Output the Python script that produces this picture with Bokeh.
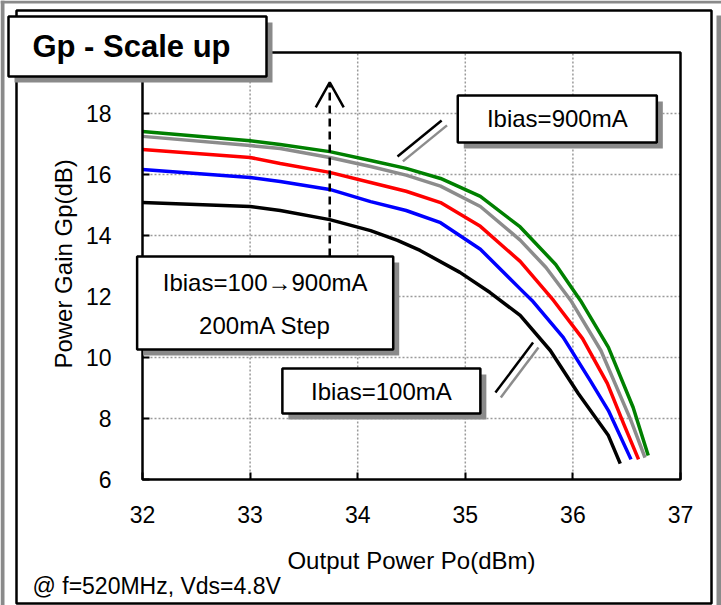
import math

from bokeh.plotting import figure
from bokeh.models import Range1d, BoxAnnotation, Label, FixedTicker
from bokeh.embed import file_html
from bokeh.resources import INLINE

# Output power (dBm) and power gain (dB) per bias current
po_100 = [32.0, 33.0, 33.28, 33.74, 34.12, 34.37, 34.58, 34.95, 35.23, 35.51, 35.79, 36.05, 36.33, 36.44]
gp_100 = [15.08, 14.95, 14.82, 14.52, 14.16, 13.84, 13.51, 12.79, 12.13, 11.38, 10.23, 8.82, 7.44, 6.52]

po_300 = [32.0, 33.0, 33.28, 33.74, 34.12, 34.45, 34.77, 35.14, 35.51, 35.62, 35.91, 36.16, 36.33, 36.54]
gp_300 = [16.16, 15.90, 15.77, 15.51, 15.11, 14.82, 14.42, 13.55, 12.25, 11.87, 10.66, 9.25, 8.26, 6.66]

po_500 = [32.0, 33.0, 33.28, 33.74, 34.12, 34.45, 34.77, 35.14, 35.51, 35.82, 36.09, 36.32, 36.47, 36.61]
gp_500 = [16.82, 16.56, 16.36, 16.07, 15.74, 15.45, 15.08, 14.30, 13.15, 11.87, 10.62, 9.15, 7.84, 6.66]

po_700 = [32.0, 33.0, 33.28, 33.74, 34.12, 34.45, 34.77, 35.14, 35.51, 35.75, 35.98, 36.26, 36.54, 36.67]
gp_700 = [17.25, 16.95, 16.85, 16.56, 16.26, 15.98, 15.62, 14.95, 13.85, 12.95, 11.87, 10.23, 7.93, 6.72]

po_900 = [32.0, 33.0, 33.28, 33.74, 34.12, 34.45, 34.77, 35.14, 35.51, 35.84, 36.07, 36.33, 36.56, 36.70]
gp_900 = [17.41, 17.11, 16.98, 16.75, 16.46, 16.20, 15.87, 15.28, 14.28, 13.05, 11.87, 10.33, 8.36, 6.79]

series = [
    (po_100, gp_100, "black"),
    (po_300, gp_300, "blue"),
    (po_500, gp_500, "red"),
    (po_700, gp_700, "#8c8c8c"),
    (po_900, gp_900, "green"),
]

x_ticks = [32, 33, 34, 35, 36, 37]
y_ticks = [6, 8, 10, 12, 14, 16, 18]
y_grid = [8, 10, 12, 14, 16, 18]
X0, X1, Y0, Y1 = 32, 37, 6, 20

FONT = "Liberation Sans"
W, H = 721, 605
# where the data rectangle sits on the page (pixels from top-left)
AREA_L, AREA_R, AREA_T, AREA_B = 142, 680, 52, 479
PX_X = (AREA_R - AREA_L) / (X1 - X0)
PX_Y = (AREA_B - AREA_T) / (Y1 - Y0)
SHADOW = 6
GREY = "#8a8a8a"

# the frame spans the whole page; the ranges are widened so the data
# rectangle lands on AREA_* and the page decorations can share the canvas
p = figure(width=W, height=H, output_backend="svg", toolbar_location=None,
           x_range=Range1d(X0 - AREA_L / PX_X, X1 + (W - AREA_R) / PX_X),
           y_range=Range1d(Y0 - (H - AREA_B) / PX_Y, Y1 + AREA_T / PX_Y),
           min_border=0)
p.title.visible = False
p.outline_line_color = None
p.background_fill_color = "white"
p.border_fill_color = "white"
p.grid.visible = False

p.xaxis.fixed_location = Y0
p.yaxis.fixed_location = X0
p.xaxis.bounds = (X0, X1)
p.yaxis.bounds = (Y0, Y1)
for ax, ticks in ((p.xaxis, x_ticks), (p.yaxis, y_ticks)):
    ax.ticker = FixedTicker(ticks=ticks)
    ax.axis_line_color = None
    ax.major_tick_in = 7
    ax.major_tick_out = 0
    ax.major_tick_line_width = 2
    ax.minor_tick_line_color = None
    ax.major_label_text_font = FONT
    ax.major_label_text_font_size = "23px"
    ax.major_label_text_color = "black"
p.xaxis.major_label_standoff = 26
p.yaxis.major_label_standoff = 31


def sx(px):
    return px


def sy(py):
    return H - py


def screen_box(l, t, r, b, fill="white", line="black", lw=2.5, shadow=True, level="overlay"):
    if shadow:
        p.add_layout(BoxAnnotation(left=sx(l + SHADOW), right=sx(r + SHADOW), top=sy(t + SHADOW),
                                   bottom=sy(b + SHADOW), left_units="screen", right_units="screen",
                                   top_units="screen", bottom_units="screen", fill_color=GREY,
                                   fill_alpha=1, line_color=None, level=level))
    p.add_layout(BoxAnnotation(left=sx(l), right=sx(r), top=sy(t), bottom=sy(b),
                               left_units="screen", right_units="screen", top_units="screen",
                               bottom_units="screen", fill_color=fill or "white",
                               fill_alpha=1 if fill else 0, line_color=line, line_alpha=1,
                               line_width=lw, level=level))


def data_box(l, r, b, t):
    dx, dy = SHADOW / PX_X, SHADOW / PX_Y
    p.add_layout(BoxAnnotation(left=l + dx, right=r + dx, bottom=b - dy, top=t - dy,
                               fill_color=GREY, fill_alpha=1, line_color=None, level="overlay"))
    p.add_layout(BoxAnnotation(left=l, right=r, bottom=b, top=t, fill_color="white", fill_alpha=1,
                               line_color="black", line_alpha=1, line_width=2.5, level="overlay"))


def label(x, y, text, x_units="data", y_units="data", size="24px", style="normal",
          align="center", angle=0.0):
    p.add_layout(Label(x=x, y=y, x_units=x_units, y_units=y_units, text=text, text_font=FONT,
                       text_font_size=size, text_font_style=style, text_align=align,
                       angle=angle, text_baseline="middle", text_color="black", level="overlay"))


# page edges and outer frame
screen_box(0, 0, 721, 3, fill=GREY, line=None, shadow=False, level="underlay")
screen_box(0, 0, 4, 605, fill=GREY, line=None, shadow=False, level="underlay")
screen_box(716, 15, 721, 605, fill=GREY, line=None, shadow=False, level="underlay")
screen_box(16, 10, 711, 603, fill=None, line="black", lw=2.5, shadow=False, level="underlay")

# dotted grid at the tick positions
p.segment(x0=x_ticks[1:-1], y0=[Y0] * 4, x1=x_ticks[1:-1], y1=[Y1] * 4,
          line_color="#9a9a9a", line_width=1.5, line_dash="2 2")
p.segment(x0=[X0] * len(y_grid), y0=y_grid, x1=[X1] * len(y_grid), y1=y_grid,
          line_color="#9a9a9a", line_width=1.5, line_dash="2 2")

for xs, ys, c in series:
    p.line(xs, ys, line_color=c, line_width=3.5, line_join="round")

# data rectangle border
p.add_layout(BoxAnnotation(left=X0, right=X1, bottom=Y0, top=Y1, fill_alpha=0,
                           line_color="black", line_alpha=1, line_width=2.5, level="annotation"))

# axis titles
label((X0 + X1) / 2, sy(560), "Output Power Po(dBm)", y_units="screen")
label(sx(63), 13.07, "Power Gain Gp(dB)", x_units="screen", angle=math.pi / 2)

# leader lines to the extreme curves (black stroke with grey shadow)
p.segment(x0=[34.42], y0=[16.43], x1=[34.83], y1=[17.61], line_color="#8c8c8c", line_width=2.5)
p.segment(x0=[34.37], y0=[16.59], x1=[34.78], y1=[17.77], line_color="black", line_width=2.5)
p.segment(x0=[35.33], y0=[8.69], x1=[35.68], y1=[10.33], line_color="#8c8c8c", line_width=2.5)
p.segment(x0=[35.28], y0=[8.85], x1=[35.63], y1=[10.49], line_color="black", line_width=2.5)

# bias-step arrow
p.segment(x0=[33.74], y0=[13.31], x1=[33.74], y1=[18.95], line_color="black", line_width=2.5,
          line_dash="8 5")
p.line([33.61, 33.74, 33.87], [18.20, 19.02, 18.20], line_color="black", line_width=2.5)

# callout boxes
data_box(34.93, 36.78, 17.05, 18.59)
label(35.855, 17.82, "Ibias=900mA")

data_box(31.95, 34.33, 10.26, 13.31)
label(33.14, 12.46, "Ibias=100\u2192900mA")
label(33.14, 11.05, "200mA Step")

data_box(33.30, 35.14, 8.16, 9.64)
label(34.22, 8.90, "Ibias=100mA")

# title plate
screen_box(8, 16, 266, 76)
label(sx(131), sy(46), "Gp - Scale up", x_units="screen", y_units="screen", size="31px",
      style="bold")

# test conditions
label(sx(32), sy(585), "@ f=520MHz, Vds=4.8V", x_units="screen", y_units="screen", size="23px",
      align="left")

open("out.html", "w").write(file_html(p, INLINE))
